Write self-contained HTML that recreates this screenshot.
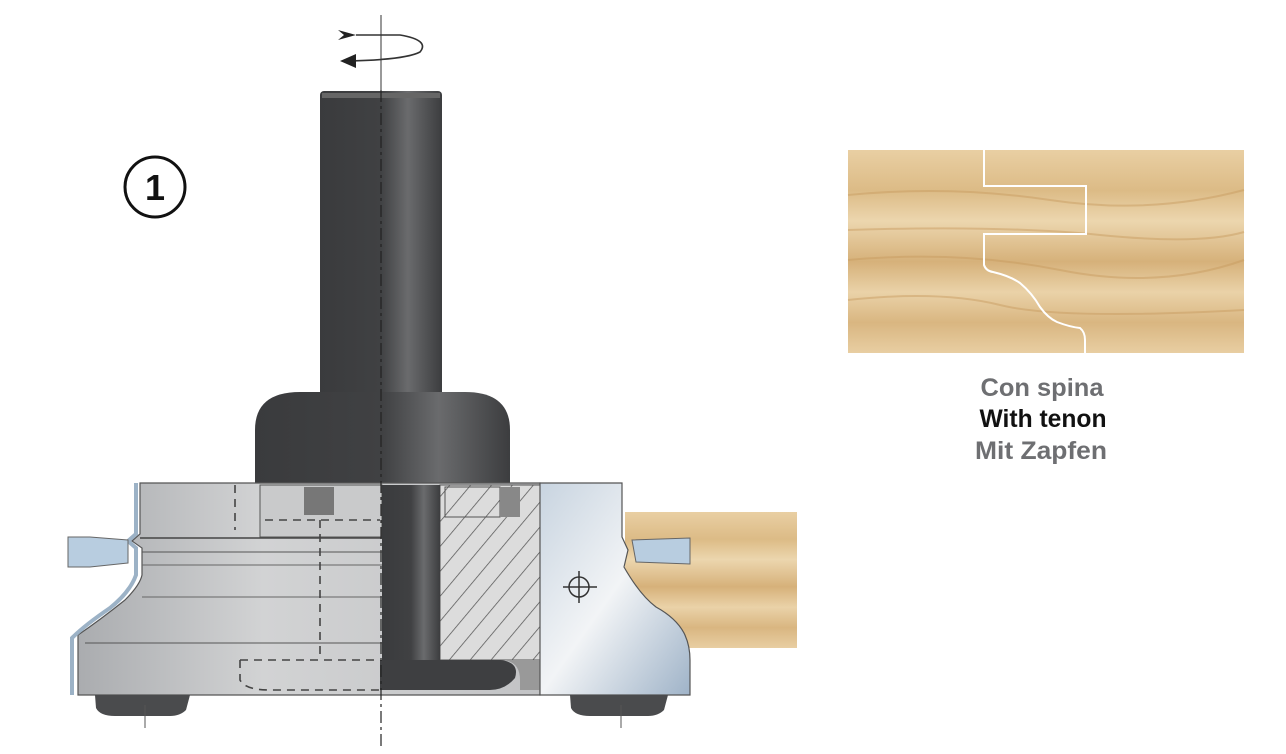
<!DOCTYPE html>
<html><head><meta charset="utf-8"><style>
html,body{margin:0;padding:0;background:#fff;}
svg{display:block;}
.t{font-family:"Liberation Sans",sans-serif;font-weight:bold;font-size:25px;text-anchor:middle;}
</style></head><body>
<svg width="1286" height="754" viewBox="0 0 1286 754" xmlns="http://www.w3.org/2000/svg">
<defs>
<linearGradient id="sh" x1="0" x2="1" y1="0" y2="0">
<stop offset="0" stop-color="#3a3b3d"/><stop offset="0.5" stop-color="#404143"/><stop offset="0.72" stop-color="#6a6b6d"/><stop offset="1" stop-color="#3c3d3f"/></linearGradient>
<linearGradient id="bd" x1="0" x2="1"><stop offset="0" stop-color="#aaacaf"/><stop offset="0.4" stop-color="#d2d3d4"/><stop offset="1" stop-color="#c2c3c5"/></linearGradient>
<linearGradient id="bl" x1="0" x2="1" y1="0" y2="1"><stop offset="0" stop-color="#c8d4e0"/><stop offset="0.5" stop-color="#f2f4f6"/><stop offset="1" stop-color="#9fb3c8"/></linearGradient>
<linearGradient id="wd" x1="0" x2="0" y1="0" y2="1">
<stop offset="0" stop-color="#e9cfa3"/><stop offset="0.2" stop-color="#dcbb86"/><stop offset="0.35" stop-color="#ecd6ae"/><stop offset="0.55" stop-color="#d6b17a"/><stop offset="0.7" stop-color="#ead2a8"/><stop offset="0.85" stop-color="#d9b681"/><stop offset="1" stop-color="#e8cea2"/></linearGradient>
<pattern id="hat" width="16" height="16" patternUnits="userSpaceOnUse" patternTransform="rotate(40)">
<rect width="16" height="16" fill="#dcdcdc"/><line x1="0" y1="0" x2="0" y2="16" stroke="#555" stroke-width="1.5"/></pattern>
</defs>

<!-- rotation arrow -->
<line x1="381" y1="15" x2="381" y2="90" stroke="#555" stroke-width="1.2"/>
<path d="M356 35 L400 35 Q430 40 420 52 Q405 60 345 61" fill="none" stroke="#333" stroke-width="1.6"/>
<polygon points="340,61 356,54 356,68" fill="#222"/>
<polygon points="338,30 356,35 338,40 344,35" fill="#222"/>

<!-- circle 1 -->
<circle cx="155" cy="187" r="30" fill="#fff" stroke="#111" stroke-width="3"/>
<text x="155" y="200" font-family="Liberation Sans,sans-serif" font-weight="bold" font-size="36" text-anchor="middle" fill="#111">1</text>

<!-- shaft -->
<rect x="320" y="91" width="122" height="305" rx="4" fill="url(#sh)"/>
<rect x="322" y="93" width="118" height="5" fill="#666"/>
<!-- collar -->
<path d="M255 485 L255 430 Q255 392 300 392 L465 392 Q510 392 510 430 L510 485 Z" fill="url(#sh)"/>

<!-- wood block (behind blade) -->
<rect x="625" y="512" width="172" height="136" fill="url(#wd)"/>

<!-- body grey -->
<path d="M140 483 L540 483 L540 695 L78 695 L78 635 Q100 620 125 600 Q140 585 142 575 L142 548 L132 541 L140 534 Z" fill="url(#bd)" stroke="#555" stroke-width="1.2"/>
<path d="M136 483 L136 534 L128 541 L136 548 L136 575 Q130 592 110 608 Q85 625 72 638 L72 695" fill="none" stroke="#9cb2c6" stroke-width="4"/>
<line x1="140" y1="538" x2="382" y2="538" stroke="#444" stroke-width="1.5"/>
<line x1="142" y1="552" x2="382" y2="552" stroke="#555" stroke-width="1"/>
<line x1="142" y1="565" x2="382" y2="565" stroke="#666" stroke-width="1"/>
<line x1="142" y1="597" x2="382" y2="597" stroke="#666" stroke-width="1"/>
<line x1="85" y1="643" x2="382" y2="643" stroke="#555" stroke-width="1"/>
<!-- top cavity -->
<rect x="260" y="485" width="122" height="52" fill="#c9cacb" stroke="#555" stroke-width="1"/>
<rect x="304" y="487" width="30" height="28" fill="#777"/>
<path d="M235 485 L235 530 M265 520 L380 520 M320 520 L320 660 M240 660 L380 660 M240 660 L240 680 Q245 690 270 690 L380 690" fill="none" stroke="#444" stroke-width="1.6" stroke-dasharray="8 6"/>

<!-- hatched area -->
<rect x="440" y="485" width="100" height="175" fill="url(#hat)" stroke="#555"/>
<rect x="445" y="487" width="55" height="30" fill="url(#hat)" stroke="#555"/>
<rect x="500" y="487" width="20" height="30" fill="#888"/>
<path d="M500 660 Q520 660 520 680 L520 690 L540 690 L540 660 Z" fill="#999"/>

<!-- inner shaft -->
<rect x="382" y="485" width="58" height="180" fill="url(#sh)"/>
<path d="M380 660 L500 660 Q520 662 515 678 Q505 690 490 690 L380 690 Z" fill="#3e3f41"/>

<!-- blade -->
<path d="M540 483 L622 483 L622 537 L628 550 L624 567 Q640 595 656 607 Q676 618 684 633 Q690 645 690 660 L690 695 L540 695 Z" fill="url(#bl)" stroke="#555" stroke-width="1.2"/>
<circle cx="579" cy="587" r="10" fill="none" stroke="#333" stroke-width="1.5"/>
<line x1="563" y1="587" x2="597" y2="587" stroke="#333" stroke-width="1.5"/>
<line x1="579" y1="571" x2="579" y2="603" stroke="#333" stroke-width="1.5"/>

<!-- pins -->
<path d="M68 537 L90 537 L128 540 L128 563 L90 567 L68 567 Z" fill="#b8cde0" stroke="#666"/>
<path d="M632 540 L690 538 L690 564 L636 562 Z" fill="#b8cde0" stroke="#666"/>

<!-- feet -->
<path d="M95 695 L190 695 L186 710 Q180 716 170 716 L115 716 Q100 716 96 708 Z" fill="#4a4b4d"/>
<path d="M570 695 L668 695 L664 710 Q658 716 648 716 L590 716 Q575 716 571 708 Z" fill="#4a4b4d"/>
<line x1="145" y1="705" x2="145" y2="728" stroke="#555"/>
<line x1="621" y1="705" x2="621" y2="728" stroke="#555"/>
<!-- center axis -->
<line x1="381" y1="90" x2="381" y2="750" stroke="#222" stroke-width="1.2" stroke-dasharray="12 4 3 4"/>

<!-- wood panel -->
<rect x="848" y="150" width="396" height="203" fill="url(#wd)"/>
<g fill="none" stroke="#c79a5e" stroke-width="2" opacity="0.45">
<path d="M848 195 Q950 185 1050 200 T1244 190"/>
<path d="M848 260 Q960 250 1060 270 T1244 260"/>
<path d="M848 300 Q940 290 1000 305 T1244 310"/>
<path d="M848 230 Q1000 225 1100 235 T1244 232"/>
</g>
<path d="M984 150 L984 186 L1086 186 L1086 234 L984 234 L984 265 Q986 271 993 272 Q1010 276 1020 283 Q1032 293 1040 307 Q1048 318 1057 322 Q1070 327 1080 328 Q1085 332 1085 340 L1085 353" fill="none" stroke="#fff" stroke-width="2"/>

<text class="t" x="1042" y="396" fill="#6e6f72" textLength="123" lengthAdjust="spacingAndGlyphs">Con spina</text>
<text class="t" x="1043" y="427" fill="#111" textLength="127" lengthAdjust="spacingAndGlyphs">With tenon</text>
<text class="t" x="1041" y="459" fill="#6e6f72" textLength="132" lengthAdjust="spacingAndGlyphs">Mit Zapfen</text>
</svg>
</body></html>
